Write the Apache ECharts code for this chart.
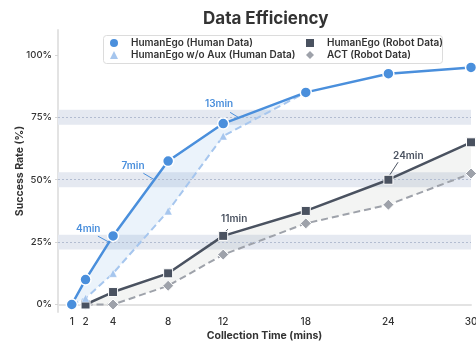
<!DOCTYPE html>
<html><head><meta charset="utf-8">
<script src="https://cdn.jsdelivr.net/npm/echarts@6/dist/echarts.min.js"></script>
<style>html,body{margin:0;padding:0;background:#fff}#c{width:476px;height:341px}</style>
</head><body><div id="c"></div>
<script>
// ---- data ----
const xTicks = [1, 2, 4, 8, 12, 18, 24, 30];
const yTicks = [0, 25, 50, 75, 100];
const humanX = [1, 2, 4, 8, 12, 18, 24, 30];
const humanEgoHuman = [0, 10, 27.5, 57.5, 72.5, 85, 92.5, 95];
const noAuxX = [1, 2, 4, 8, 12, 18];
const humanEgoNoAux = [0, 2.5, 12.5, 37.5, 67.5, 85];
const robotX = [2, 4, 8, 12, 18, 24, 30];
const humanEgoRobot = [0, 5, 12.5, 27.5, 37.5, 50, 65];
const actRobot = [0, 0, 7.5, 20, 32.5, 40, 52.5];
const thresholds = [25, 50, 75];
const humanNotes = [
  { text: '4min', textAt: [2.2, 30.2], from: [2.9, 27.4], to: [3.7, 25] },
  { text: '7min', textAt: [5.45, 55.4], from: [6.2, 52.6], to: [7.0, 50] },
  { text: '13min', textAt: [11.7, 80.2], from: [12.5, 77.0], to: [13.1, 75] }
];
const robotNotes = [
  { text: '11min', textAt: [12.8, 34.2], from: [12.35, 30.2], to: [11.55, 26.2] },
  { text: '24min', textAt: [25.45, 59.4], from: [24.7, 57.0], to: [24.05, 51.5] }
];
const names = ['HumanEgo (Human Data)', 'HumanEgo w/o Aux (Human Data)', 'HumanEgo (Robot Data)', 'ACT (Robot Data)'];

// ---- build ----
const C_BLUE = '#4a8fdc', C_LBLUE = '#a6c6ee', C_DARK = '#4a5260', C_GRAY = '#9ea2aa';
const zip = (xs, ys) => xs.map((x, i) => [x, ys[i]]);
const FONT = 'Inter';

function notes(list, color) {
  return {
    markPoint: {
      symbol: 'circle', symbolSize: 0, silent: true,
      label: { show: true, position: 'inside', formatter: '{b}', color: color, fontSize: 10, fontWeight: 600, fontFamily: FONT },
      data: list.map(n => ({ name: n.text, coord: n.textAt }))
    },
    markLine: {
      silent: true, symbol: ['none', 'arrow'], symbolSize: [0, 5], animation: false,
      label: { show: false },
      lineStyle: { color: color, width: 1, type: 'solid' },
      data: list.map(n => [{ coord: n.from }, { coord: n.to }])
    }
  };
}

// band between an upper and a lower line, drawn via the axes' scales
function bandSeries(upperPts, lowerPts, fill) {
  return {
    type: 'custom', silent: true, z: 2, data: [0],
    renderItem: function (params, api) {
      const pts = upperPts.map(p => api.coord(p)).concat(lowerPts.slice().reverse().map(p => api.coord(p)));
      return { type: 'polygon', shape: { points: pts }, style: { fill: fill } };
    }
  };
}

const legendText = { fontSize: 10, fontWeight: 600, color: '#333', fontFamily: FONT, padding: [0, 0, 0, 8] };

const chart = echarts.init(document.getElementById('c'), null, { renderer: 'canvas' });
chart.setOption({
  animation: false,
  textStyle: { fontFamily: FONT },
  title: { text: 'Data Efficiency', left: 203, top: 10, padding: 0,
    textStyle: { fontSize: 17, fontWeight: 'bold', color: '#333', fontFamily: FONT } },
  graphic: [{ type: 'rect', left: 103, top: 35, shape: { width: 339, height: 28, r: 3 },
    style: { fill: '#fff', stroke: '#dcdcdc', lineWidth: 1 }, z: 5 }],
  legend: [
    { data: [{ name: names[0], icon: 'circle' }, { name: names[1], icon: 'triangle' }],
      orient: 'vertical', left: 110, top: 38, itemGap: 2, padding: 0,
      itemWidth: 8, itemHeight: 8, z: 10, itemStyle: { borderWidth: 0 }, textStyle: legendText },
    { data: [{ name: names[2], icon: 'rect' }, { name: names[3], icon: 'diamond' }],
      orient: 'vertical', left: 306, top: 38, itemGap: 2, padding: 0,
      itemWidth: 8, itemHeight: 8, z: 10, itemStyle: { borderWidth: 0 }, textStyle: legendText }
  ],
  grid: { left: 58, right: 5, top: 30, bottom: 29, containLabel: false, outerBoundsMode: 'none' },
  xAxis: {
    type: 'value', min: 0, max: 30,
    name: 'Collection Time (mins)', nameLocation: 'middle', nameGap: 18, nameMoveOverlap: false,
    nameTextStyle: { fontSize: 10.5, fontWeight: 'bold', color: '#333', fontFamily: FONT },
    axisLine: { show: true, lineStyle: { color: '#e3e3e3', width: 2 } },
    axisTick: { show: false },
    splitLine: { show: false },
    axisLabel: { customValues: xTicks, fontSize: 10, color: '#333', margin: 5, fontFamily: FONT, fontWeight: 500 }
  },
  yAxis: {
    type: 'value', min: -3, max: 110,
    name: 'Success Rate (%)', nameLocation: 'middle', nameGap: 33, nameMoveOverlap: false,
    nameTextStyle: { fontSize: 10.5, fontWeight: 'bold', color: '#333', fontFamily: FONT },
    axisLine: { show: true, lineStyle: { color: '#e3e3e3', width: 2 } },
    axisTick: { show: true, customValues: yTicks, length: 3, lineStyle: { color: '#d6d6d6' } },
    splitLine: { show: false },
    axisLabel: { customValues: yTicks, formatter: '{value}%', fontSize: 9.5, color: '#333', margin: 6, fontFamily: FONT, fontWeight: 500 }
  },
  series: [
    { // threshold bands
      type: 'line', data: [], z: 1, silent: true,
      markArea: { silent: true, itemStyle: { color: '#e5e9f1' },
        data: thresholds.map(t => [{ yAxis: t - 3 }, { yAxis: t + 3 }]) },
      markLine: { silent: true, symbol: 'none', label: { show: false },
        lineStyle: { color: '#b3bdd1', type: [2, 2], width: 1 },
        data: thresholds.map(t => ({ yAxis: t })) }
    },
    bandSeries(zip(noAuxX, humanEgoHuman.slice(0, noAuxX.length)), zip(noAuxX, humanEgoNoAux), 'rgba(74,143,220,0.11)'),
    bandSeries(zip(robotX, humanEgoRobot), zip(robotX, actRobot), 'rgba(120,135,125,0.09)'),
    { name: names[3], type: 'line', data: zip(robotX, actRobot), z: 4,
      symbol: 'diamond', symbolSize: 11, color: C_GRAY,
      lineStyle: { color: C_GRAY, width: 2, type: [7, 4] },
      itemStyle: { color: C_GRAY, borderColor: '#fff', borderWidth: 1 } },
    Object.assign({ name: names[2], type: 'line', data: zip(robotX, humanEgoRobot), z: 5,
      symbol: 'rect', symbolSize: 9, color: C_DARK,
      lineStyle: { color: C_DARK, width: 2.5 },
      itemStyle: { color: C_DARK, borderColor: '#fff', borderWidth: 1 } }, notes(robotNotes, C_DARK)),
    { name: names[1], type: 'line', data: zip(noAuxX, humanEgoNoAux), z: 6,
      symbol: 'triangle', symbolSize: 8, color: C_LBLUE,
      lineStyle: { color: C_LBLUE, width: 2, type: [7, 4] },
      itemStyle: { color: C_LBLUE, borderColor: '#fff', borderWidth: 0.5 } },
    Object.assign({ name: names[0], type: 'line', data: zip(humanX, humanEgoHuman), z: 7,
      symbol: 'circle', symbolSize: 11, color: C_BLUE,
      lineStyle: { color: C_BLUE, width: 2.5 },
      itemStyle: { color: C_BLUE, borderColor: '#fff', borderWidth: 1.5 } }, notes(humanNotes, C_BLUE))
  ]
});
</script></body></html>
